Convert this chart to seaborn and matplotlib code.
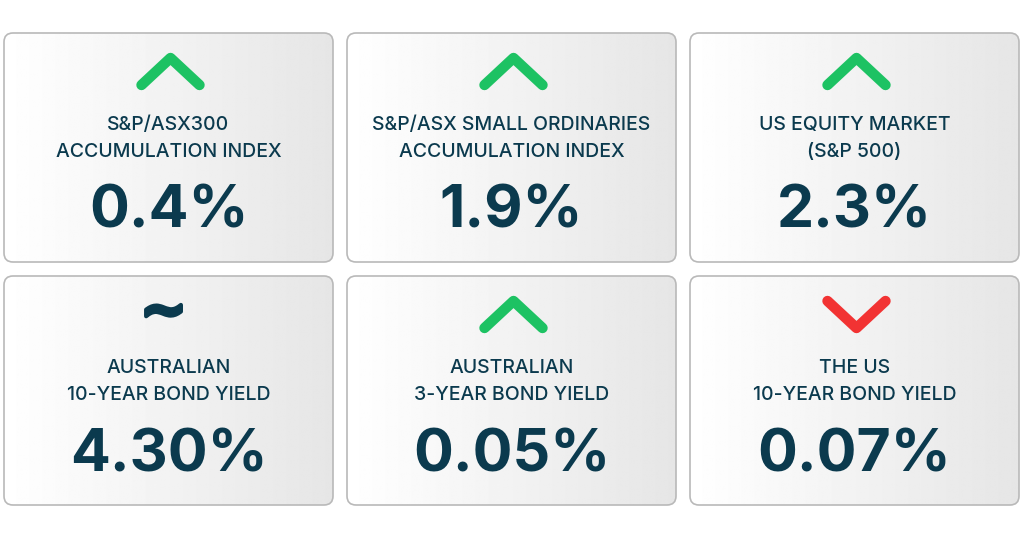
import numpy as np
import matplotlib
matplotlib.use("Agg")
import matplotlib.pyplot as plt
import matplotlib.patheffects as pe
import seaborn as sns
from matplotlib.patches import FancyBboxPatch

sns.set_theme(style="white")
plt.rcParams['font.family'] = ['Inter', 'DejaVu Sans']

# --- data ---
titles = [
    "S&P/ASX300\nACCUMULATION INDEX",
    "S&P/ASX SMALL ORDINARIES\nACCUMULATION INDEX",
    "US EQUITY MARKET\n(S&P 500)",
    "AUSTRALIAN\n10-YEAR BOND YIELD",
    "AUSTRALIAN\n3-YEAR BOND YIELD",
    "THE US\n10-YEAR BOND YIELD",
]
values = ["0.4%", "1.9%", "2.3%", "4.30%", "0.05%", "0.07%"]
moves = ["up", "up", "up", "flat", "up", "down"]

TEXT = "#0b3a4e"
GREEN = "#1dc263"
RED = "#f23333"

fig = plt.figure(figsize=(10.24, 5.38), dpi=100)
ax = fig.add_axes([0, 0, 1, 1])
ax.set_xlim(0, 1024)
ax.set_ylim(538, 0)
ax.axis("off")

# light gradient for card fill
grad = np.tile(np.linspace(1.0, 0.90, 256), (16, 1))

col_x = [4, 347, 690]
row_y = [33, 276]
w, h = 329, 229

for i, (title, val, mv) in enumerate(zip(titles, values, moves)):
    x0 = col_x[i % 3]
    y0 = row_y[i // 3]
    cx = x0 + w / 2

    card = FancyBboxPatch((x0, y0), w, h, boxstyle="round,pad=0,rounding_size=9",
                          fc="none", ec="#b9b9b9", lw=1.2, zorder=3)
    ax.add_patch(card)
    im = ax.imshow(grad, cmap="gray", vmin=0, vmax=1, aspect="auto",
                   extent=(x0, x0 + w, y0 + h, y0), zorder=1)
    im.set_clip_path(card)

    # icon
    if mv == "up":
        ax.plot([cx - 27, cx + 2, cx + 31], [y0 + 52, y0 + 25, y0 + 52], color=GREEN,
                lw=7.5, solid_capstyle="round", solid_joinstyle="round", zorder=4)
    elif mv == "down":
        ax.plot([cx - 27, cx + 2, cx + 31], [y0 + 25, y0 + 52, y0 + 25], color=RED,
                lw=7.5, solid_capstyle="round", solid_joinstyle="round", zorder=4)
    else:
        ax.text(cx - 5, y0 + 37, "~", ha="center", va="center", fontsize=40,
                fontweight="bold", color=TEXT, family="DejaVu Sans", zorder=4,
                path_effects=[pe.withStroke(linewidth=3, foreground=TEXT)])

    # label and value
    ax.text(cx, y0 + 105.5, title, ha="center", va="center", fontsize=14,
            fontweight="medium", color=TEXT, linespacing=1.63, zorder=4)
    ax.text(cx, y0 + 195, val, ha="center", va="baseline", fontsize=42.5,
            fontweight="bold", color=TEXT, zorder=4)

fig.savefig("out.png", dpi=100, facecolor="white")
